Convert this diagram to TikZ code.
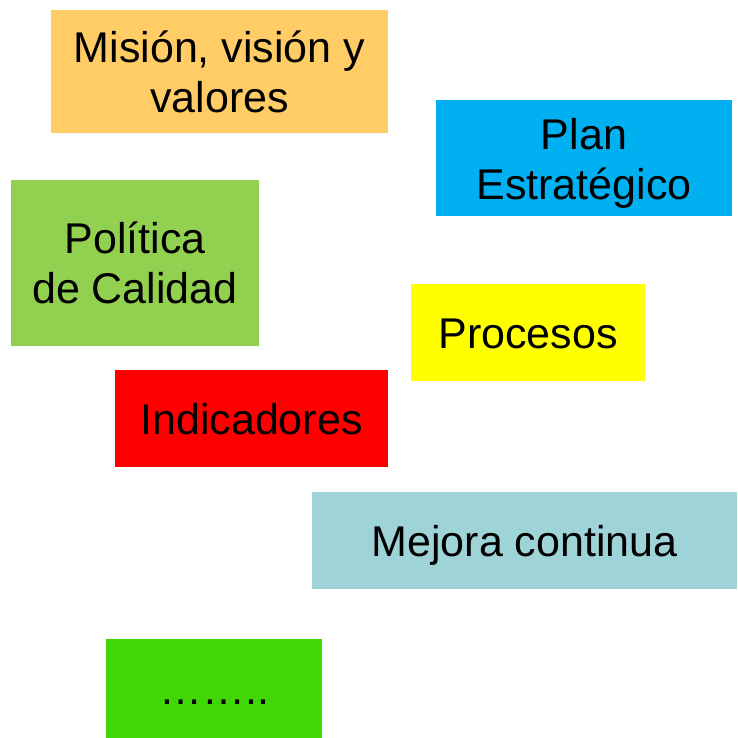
\documentclass[tikz,border=0pt]{standalone}
\usepackage{fontspec}
\setmainfont{Liberation Sans}
\usepackage{tikz}

\definecolor{naranja}{HTML}{FFCC66}
\definecolor{azul}{HTML}{00B0F0}
\definecolor{verde}{HTML}{92D050}
\definecolor{amarillo}{HTML}{FFFF00}
\definecolor{rojo}{HTML}{FF0000}
\definecolor{turquesa}{HTML}{9ED3D8}
\definecolor{verdevivo}{HTML}{40D704}
\newcommand{\renglon}{\rule[-9pt]{0pt}{50pt}}

\begin{document}
\begin{tikzpicture}[x=1pt,y=-1pt,
	caja/.style={rectangle,inner sep=0pt,align=center,font=\fontsize{43}{50}\selectfont}]
	\useasboundingbox (0,0) rectangle (737,738);
	\node[caja,fill=naranja,minimum width=337pt,minimum height=122.5pt] (1) at (219.5,71.3) {\renglon Misión, visión y\\\renglon valores};
	\node[caja,fill=azul,minimum width=296pt,minimum height=116pt] (2) at (584,158) {\renglon Plan\\\renglon Estratégico};
	\node[caja,fill=verde,minimum width=248pt,minimum height=165.5pt] (3) at (135,262.8) {\renglon Política\\\renglon de Calidad};
	\node[caja,fill=amarillo,minimum width=234pt,minimum height=96.5pt] (4) at (528,332.3) {\renglon Procesos};
	\node[caja,fill=rojo,minimum width=273pt,minimum height=96.5pt] (5) at (251.5,418.3) {\renglon Indicadores};
	\node[caja,fill=turquesa,minimum width=425pt,minimum height=96.5pt] (6) at (524.5,540.3) {\renglon Mejora continua};
	\node[caja,fill=verdevivo,minimum width=216pt,minimum height=99pt] (7) at (214,688.5) {\renglon ……..};
\end{tikzpicture}
\end{document}
